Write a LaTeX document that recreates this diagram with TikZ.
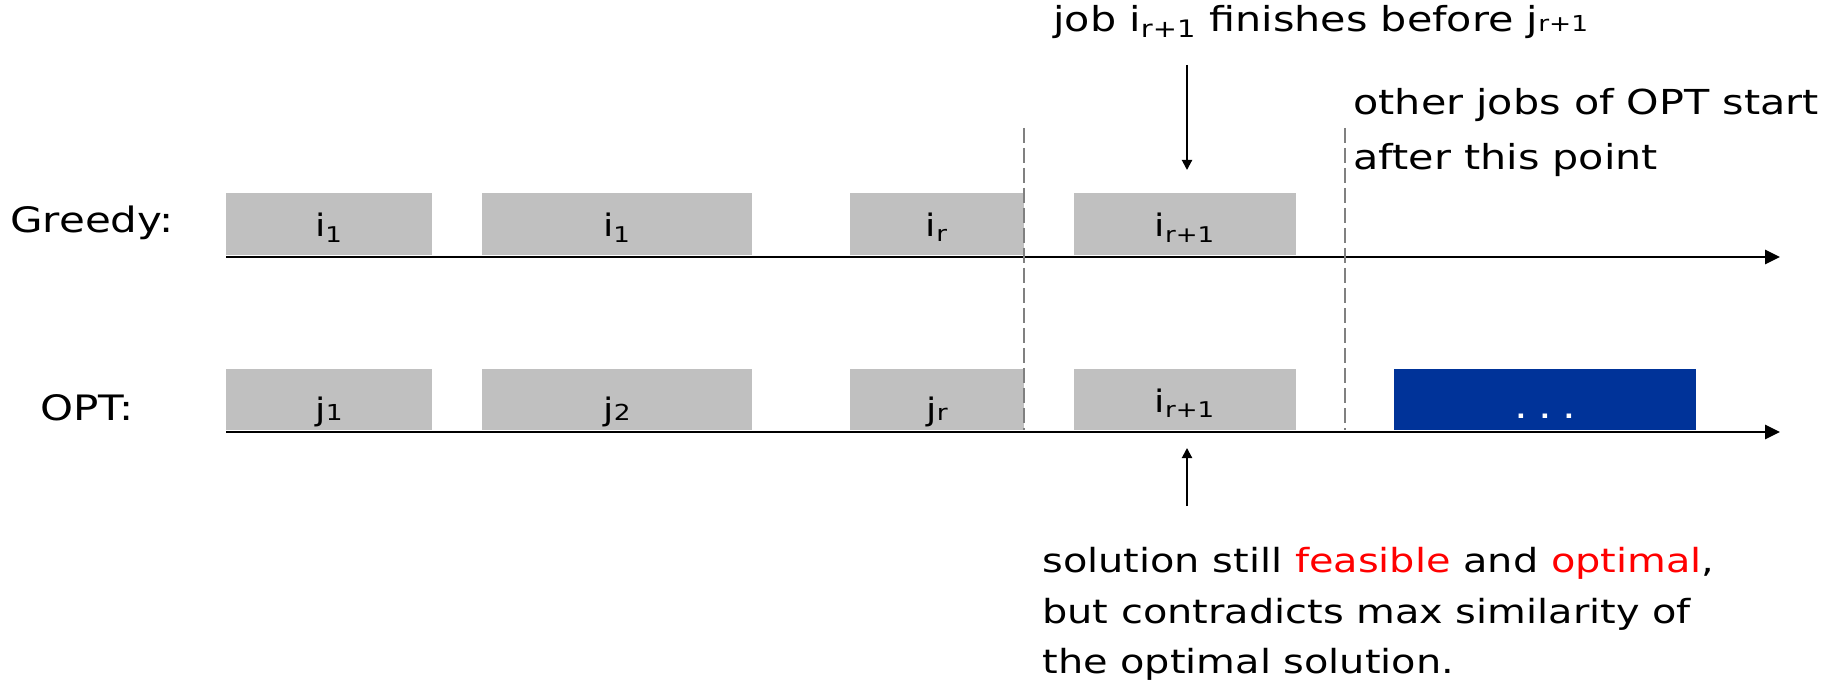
\documentclass[tikz,border=0pt]{standalone}
\usepackage{fontspec}
\setmainfont{DejaVu Sans}[FakeStretch=1.2]
\usetikzlibrary{arrows.meta}
\definecolor{boxgray}{RGB}{192,192,192}
\definecolor{optblue}{RGB}{0,51,153}
\definecolor{dashgray}{RGB}{128,128,128}
\newcommand{\jsub}[1]{{\fontsize{11pt}{11pt}\selectfont #1}}
\begin{document}
\begin{tikzpicture}[x=0.5pt,y=-0.5pt,
  jobbox/.style={fill=boxgray},
  bluebox/.style={fill=optblue},
  joblabel/.style={anchor=base, inner sep=0pt, font=\fontsize{15.5pt}{18pt}\selectfont},
  rowlabel/.style={anchor=base west, inner sep=0pt, font=\fontsize{17.5pt}{20pt}\selectfont},
  note/.style={anchor=base west, inner sep=0pt, font=\fontsize{17.2pt}{20pt}\selectfont},
  solnote/.style={anchor=base west, inner sep=0pt, font=\fontsize{16.6pt}{20pt}\selectfont},
  timeaxis/.style={line width=1.4pt, -{Triangle[length=7.5pt,width=7pt]}},
  sep/.style={dashgray, line width=0.8pt, dash pattern=on 7.5pt off 2.5pt},
  pointer/.style={line width=1pt, -{Triangle[length=5pt,width=5pt]}}]
\useasboundingbox (0,0) rectangle (1846,684);

% row labels
\node[rowlabel] (greedy) at (10,233) {Greedy:};
\node[rowlabel] (opt) at (40,420) {OPT:};

% greedy row boxes
\fill[jobbox] (226,193) rectangle (432,255);
\fill[jobbox] (482,193) rectangle (752,255);
\fill[jobbox] (850,193) rectangle (1024,255);
\fill[jobbox] (1074,193) rectangle (1296,255);
\node[joblabel] (g1) at (329,237) {i\textsubscript{1}};
\node[joblabel] (g2) at (617,237) {i\textsubscript{1}};
\node[joblabel] (g3) at (937,237) {i\textsubscript{r}};
\node[joblabel] (g4) at (1185,237) {i\textsubscript{r+1}};

% opt row boxes
\fill[jobbox] (226,369) rectangle (432,430);
\fill[jobbox] (482,369) rectangle (752,430);
\fill[jobbox] (850,369) rectangle (1024,430);
\fill[jobbox] (1074,369) rectangle (1296,430);
\fill[bluebox] (1394,369) rectangle (1696,430);
\node[joblabel] (o1) at (329,420) {j\jsub{1}};
\node[joblabel] (o2) at (617,420) {j\jsub{2}};
\node[joblabel] (o3) at (937,420) {j\jsub{r}};
\node[joblabel] (o4) at (1185,412) {i\textsubscript{r+1}};
\node[anchor=base, inner sep=0pt, text=white, font=\fontsize{18pt}{20pt}\selectfont] (dots) at (1545,418) {.\hspace{5.2pt}.\hspace{5.2pt}.};

% time axes
\coordinate (ga0) at (226,257);
\coordinate (ga1) at (1780,257);
\coordinate (oa0) at (226,432);
\coordinate (oa1) at (1780,432);
\draw[timeaxis] (ga0) -- (ga1);
\draw[timeaxis] (oa0) -- (oa1);

% dashed separators
\coordinate (d1t) at (1024,128);
\coordinate (d1b) at (1024,430);
\coordinate (d2t) at (1345,128);
\coordinate (d2b) at (1345,430);
\draw[sep] (d1t) -- (d1b);
\draw[sep] (d2t) -- (d2b);

% annotations
\node[note] (top) at (1053,32) {job i\textsubscript{r+1} finishes before j\jsub{r+1}};
\coordinate (p1s) at (1187,65);
\coordinate (p1e) at (1187,170);
\draw[pointer] (p1s) -- (p1e);

\node[note] (other1) at (1353,115) {other jobs of OPT start};
\node[note] (other2) at (1353,170) {after this point};

\coordinate (p2s) at (1187,506);
\coordinate (p2e) at (1187,448);
\draw[pointer] (p2s) -- (p2e);

\node[solnote] (sol1) at (1042,572) {solution still \textcolor{red}{feasible} and \textcolor{red}{optimal},};
\node[solnote] (sol2) at (1042,623) {but contradicts max similarity of};
\node[solnote] (sol3) at (1042,673) {the optimal solution.};
\end{tikzpicture}
\end{document}
